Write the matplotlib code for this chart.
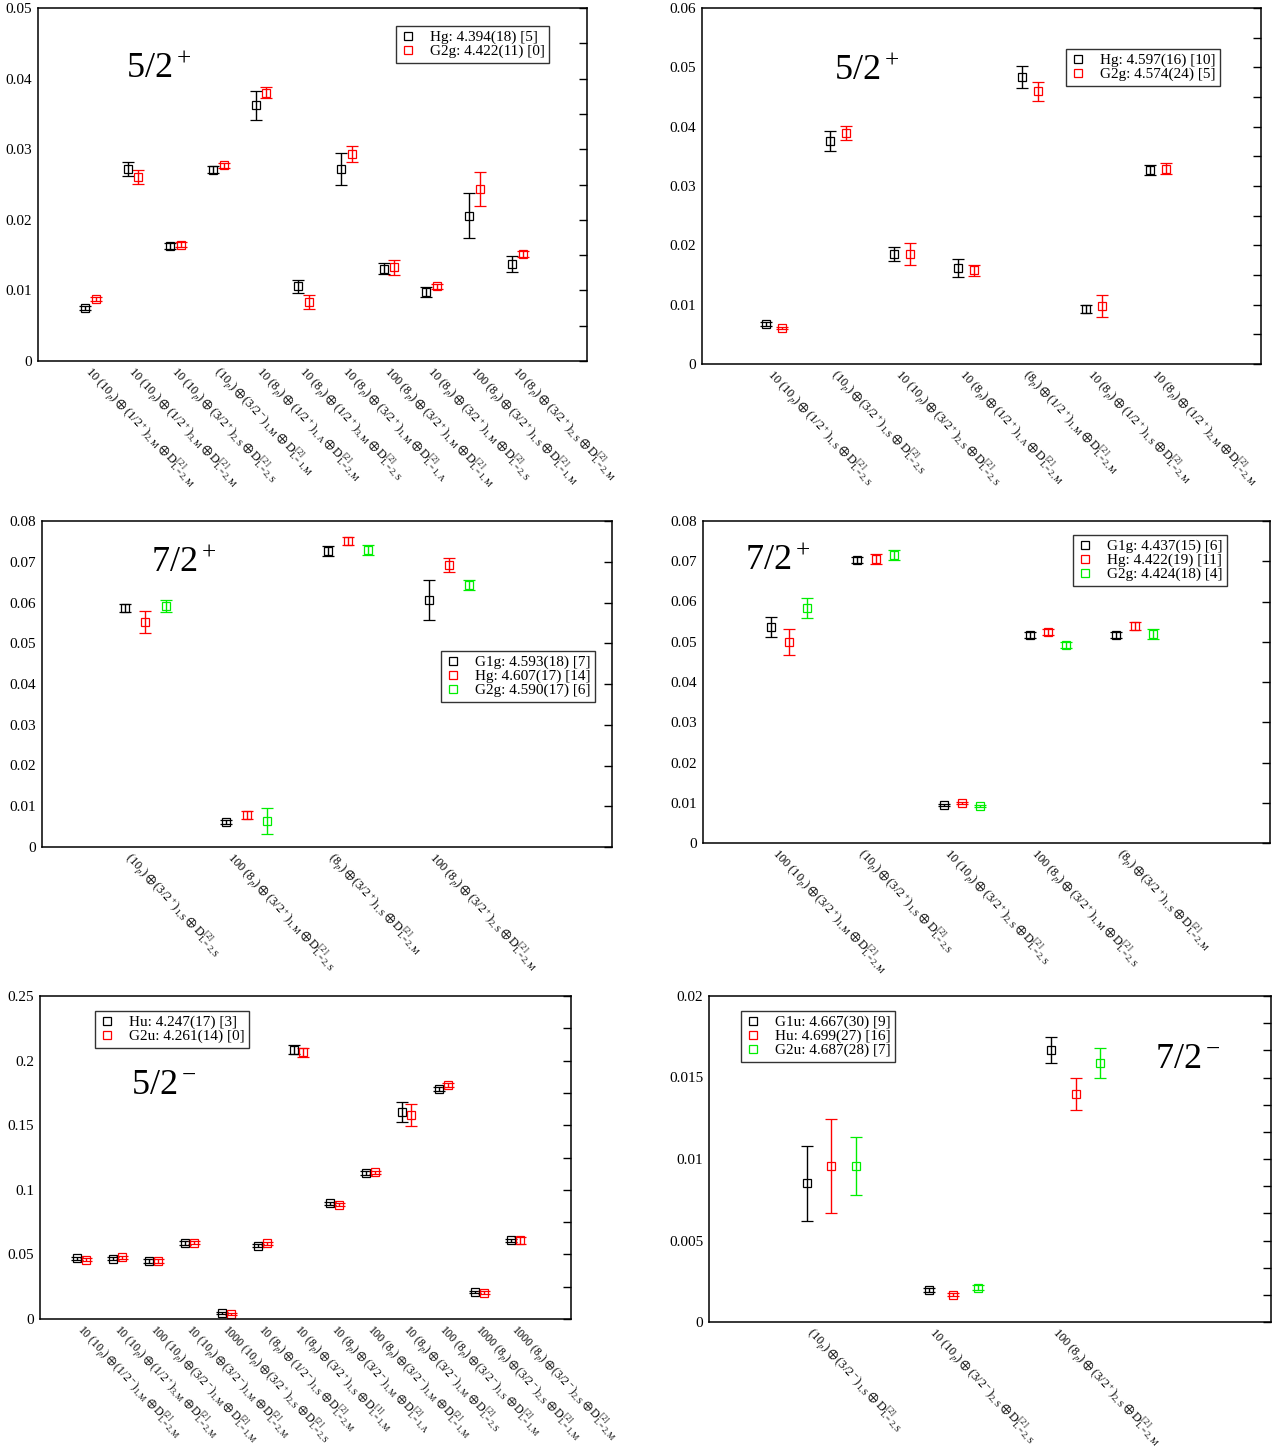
import matplotlib
matplotlib.use("Agg")
import matplotlib.pyplot as plt
from matplotlib.lines import Line2D
from matplotlib.ticker import MultipleLocator, AutoMinorLocator, FuncFormatter

plt.rcParams['font.family'] = ['Liberation Serif', 'DejaVu Serif']
plt.rcParams['mathtext.fontset'] = 'stix'

W, H = 1286, 1452
BLACK, RED, GREEN = '#000000', '#ff0000', '#00ee00'

# ---------------- Panel A: 5/2+ ----------------
a_labels = [
    r"$\mathregular{10\ (10_{\mathit{p}})\oplus(1/2^+)_{2,M}\oplus D^{[2]}_{L=2,M}}$",
    r"$\mathregular{10\ (10_{\mathit{p}})\oplus(1/2^+)_{3,M}\oplus D^{[2]}_{L=2,M}}$",
    r"$\mathregular{10\ (10_{\mathit{p}})\oplus(3/2^+)_{2,S}\oplus D^{[2]}_{L=2,S}}$",
    r"$\mathregular{(10_{\mathit{p}})\oplus(3/2^-)_{1,M}\oplus D^{[2]}_{L=1,M}}$",
    r"$\mathregular{10\ (8_{\mathit{p}})\oplus(1/2^+)_{1,A}\oplus D^{[2]}_{L=2,M}}$",
    r"$\mathregular{10\ (8_{\mathit{p}})\oplus(1/2^+)_{3,M}\oplus D^{[2]}_{L=2,S}}$",
    r"$\mathregular{10\ (8_{\mathit{p}})\oplus(3/2^+)_{1,M}\oplus D^{[2]}_{L=1,A}}$",
    r"$\mathregular{100\ (8_{\mathit{p}})\oplus(3/2^+)_{1,M}\oplus D^{[2]}_{L=1,M}}$",
    r"$\mathregular{10\ (8_{\mathit{p}})\oplus(3/2^+)_{1,M}\oplus D^{[2]}_{L=2,S}}$",
    r"$\mathregular{100\ (8_{\mathit{p}})\oplus(3/2^+)_{1,S}\oplus D^{[2]}_{L=1,M}}$",
    r"$\mathregular{10\ (8_{\mathit{p}})\oplus(3/2^+)_{2,S}\oplus D^{[2]}_{L=2,M}}$",
]
a_hg = [0.0075, 0.0272, 0.01627, 0.0271, 0.0362, 0.01057, 0.0272, 0.01307, 0.0098, 0.0206, 0.01373]
a_hg_err = [0.0003, 0.0010, 0.0004, 0.0005, 0.0021, 0.0009, 0.0023, 0.0008, 0.0007, 0.0032, 0.0011]
a_g2g = [0.00873, 0.0261, 0.0165, 0.0277, 0.0380, 0.0083, 0.0293, 0.01325, 0.01057, 0.0244, 0.0152]
a_g2g_err = [0.0003, 0.0010, 0.0003, 0.0004, 0.0008, 0.0010, 0.0011, 0.0010, 0.0004, 0.0024, 0.0004]
a_legend = ["Hg: 4.394(18) [5]", "G2g: 4.422(11) [0]"]

# ---------------- Panel B: 5/2+ ----------------
b_labels = [
    r"$\mathregular{10\ (10_{\mathit{p}})\oplus(1/2^+)_{1,S}\oplus D^{[2]}_{L=2,S}}$",
    r"$\mathregular{(10_{\mathit{p}})\oplus(3/2^+)_{1,S}\oplus D^{[2]}_{L=2,S}}$",
    r"$\mathregular{10\ (10_{\mathit{p}})\oplus(3/2^+)_{2,S}\oplus D^{[2]}_{L=2,S}}$",
    r"$\mathregular{10\ (8_{\mathit{p}})\oplus(1/2^+)_{1,A}\oplus D^{[2]}_{L=2,M}}$",
    r"$\mathregular{(8_{\mathit{p}})\oplus(1/2^+)_{1,M}\oplus D^{[2]}_{L=2,M}}$",
    r"$\mathregular{10\ (8_{\mathit{p}})\oplus(1/2^+)_{1,S}\oplus D^{[2]}_{L=2,M}}$",
    r"$\mathregular{10\ (8_{\mathit{p}})\oplus(1/2^+)_{2,M}\oplus D^{[2]}_{L=2,M}}$",
]
b_hg = [0.00674, 0.0376, 0.01854, 0.0162, 0.0484, 0.00927, 0.0327]
b_hg_err = [0.0003, 0.0017, 0.0011, 0.0015, 0.0019, 0.0006, 0.0008]
b_g2g = [0.00607, 0.0389, 0.01854, 0.0158, 0.0460, 0.0098, 0.0329]
b_g2g_err = [0.0002, 0.0012, 0.0018, 0.0009, 0.0016, 0.0018, 0.0009]
b_legend = ["Hg: 4.597(16) [10]", "G2g: 4.574(24) [5]"]

# ---------------- Panel C: 7/2+ ----------------
c_labels = [
    r"$\mathregular{(10_{\mathit{p}})\oplus(3/2^+)_{1,S}\oplus D^{[2]}_{L=2,S}}$",
    r"$\mathregular{100\ (8_{\mathit{p}})\oplus(3/2^+)_{1,M}\oplus D^{[2]}_{L=2,S}}$",
    r"$\mathregular{(8_{\mathit{p}})\oplus(3/2^+)_{1,S}\oplus D^{[2]}_{L=2,M}}$",
    r"$\mathregular{100\ (8_{\mathit{p}})\oplus(3/2^+)_{2,S}\oplus D^{[2]}_{L=2,M}}$",
]
c_g1g = [0.0587, 0.0061, 0.0726, 0.0606]
c_g1g_err = [0.0010, 0.0005, 0.0012, 0.0048]
c_hg = [0.0552, 0.0079, 0.0751, 0.0692]
c_hg_err = [0.0027, 0.0010, 0.0009, 0.0018]
c_g2g = [0.0591, 0.0064, 0.0729, 0.0643]
c_g2g_err = [0.0015, 0.0032, 0.0012, 0.0012]
c_legend = ["G1g: 4.593(18) [7]", "Hg: 4.607(17) [14]", "G2g: 4.590(17) [6]"]

# ---------------- Panel D: 7/2+ ----------------
d_labels = [
    r"$\mathregular{100\ (10_{\mathit{p}})\oplus(3/2^+)_{1,M}\oplus D^{[2]}_{L=2,M}}$",
    r"$\mathregular{(10_{\mathit{p}})\oplus(3/2^+)_{1,S}\oplus D^{[2]}_{L=2,S}}$",
    r"$\mathregular{10\ (10_{\mathit{p}})\oplus(3/2^+)_{2,S}\oplus D^{[2]}_{L=2,S}}$",
    r"$\mathregular{100\ (8_{\mathit{p}})\oplus(3/2^+)_{1,M}\oplus D^{[2]}_{L=2,S}}$",
    r"$\mathregular{(8_{\mathit{p}})\oplus(3/2^+)_{1,S}\oplus D^{[2]}_{L=2,M}}$",
]
d_g1g = [0.0537, 0.0703, 0.0094, 0.0517, 0.0517]
d_g1g_err = [0.0025, 0.0008, 0.0003, 0.0007, 0.0007]
d_hg = [0.0499, 0.0706, 0.0099, 0.0524, 0.0539]
d_hg_err = [0.0032, 0.0012, 0.0003, 0.0008, 0.0009]
d_g2g = [0.0584, 0.0716, 0.0092, 0.0492, 0.0519]
d_g2g_err = [0.0024, 0.0012, 0.0003, 0.0008, 0.0012]
d_legend = ["G1g: 4.437(15) [6]", "Hg: 4.422(19) [11]", "G2g: 4.424(18) [4]"]

# ---------------- Panel E: 5/2- ----------------
e_labels = [
    r"$\mathregular{10\ (10_{\mathit{p}})\oplus(1/2^-)_{1,M}\oplus D^{[2]}_{L=2,M}}$",
    r"$\mathregular{10\ (10_{\mathit{p}})\oplus(1/2^+)_{3,M}\oplus D^{[2]}_{L=2,M}}$",
    r"$\mathregular{100\ (10_{\mathit{p}})\oplus(3/2^-)_{1,M}\oplus D^{[2]}_{L=1,M}}$",
    r"$\mathregular{10\ (10_{\mathit{p}})\oplus(3/2^-)_{1,M}\oplus D^{[2]}_{L=2,M}}$",
    r"$\mathregular{1000\ (10_{\mathit{p}})\oplus(3/2^+)_{2,S}\oplus D^{[2]}_{L=2,S}}$",
    r"$\mathregular{10\ (8_{\mathit{p}})\oplus(1/2^-)_{1,S}\oplus D^{[2]}_{L=2,M}}$",
    r"$\mathregular{10\ (8_{\mathit{p}})\oplus(3/2^+)_{1,S}\oplus D^{[1]}_{L=1,M}}$",
    r"$\mathregular{10\ (8_{\mathit{p}})\oplus(3/2^-)_{1,M}\oplus D^{[2]}_{L=1,A}}$",
    r"$\mathregular{100\ (8_{\mathit{p}})\oplus(3/2^-)_{1,M}\oplus D^{[2]}_{L=1,M}}$",
    r"$\mathregular{10\ (8_{\mathit{p}})\oplus(3/2^-)_{1,M}\oplus D^{[2]}_{L=2,S}}$",
    r"$\mathregular{100\ (8_{\mathit{p}})\oplus(3/2^-)_{1,S}\oplus D^{[2]}_{L=1,M}}$",
    r"$\mathregular{1000\ (8_{\mathit{p}})\oplus(3/2^-)_{2,S}\oplus D^{[2]}_{L=1,M}}$",
    r"$\mathregular{1000\ (8_{\mathit{p}})\oplus(3/2^-)_{2,S}\oplus D^{[2]}_{L=2,M}}$",
]
e_hu = [0.0470, 0.0465, 0.0449, 0.0589, 0.00465, 0.0568, 0.2084, 0.0896, 0.1131, 0.1604, 0.1780, 0.0209, 0.0610]
e_hu_err = [0.0012, 0.0012, 0.0012, 0.0015, 0.0010, 0.0012, 0.0036, 0.0012, 0.0014, 0.0077, 0.0018, 0.0010, 0.0012]
e_g2u = [0.0460, 0.0478, 0.0449, 0.0589, 0.0039, 0.0586, 0.2064, 0.0886, 0.1136, 0.1580, 0.1810, 0.0204, 0.0610]
e_g2u_err = [0.0012, 0.0012, 0.0012, 0.0012, 0.0010, 0.0012, 0.0037, 0.0012, 0.0012, 0.0085, 0.0018, 0.0010, 0.0028]
e_legend = ["Hu: 4.247(17) [3]", "G2u: 4.261(14) [0]"]

# ---------------- Panel F: 7/2- ----------------
f_labels = [
    r"$\mathregular{(10_{\mathit{p}})\oplus(3/2^-)_{1,S}\oplus D^{[2]}_{L=2,S}}$",
    r"$\mathregular{10\ (10_{\mathit{p}})\oplus(3/2^-)_{2,S}\oplus D^{[2]}_{L=2,S}}$",
    r"$\mathregular{100\ (8_{\mathit{p}})\oplus(3/2^+)_{2,S}\oplus D^{[2]}_{L=2,M}}$",
]
f_g1u = [0.00850, 0.00197, 0.0167]
f_g1u_err = [0.0023, 0.0001, 0.0008]
f_hu = [0.00958, 0.00168, 0.0140]
f_hu_err = [0.0029, 0.0001, 0.0010]
f_g2u = [0.00958, 0.00209, 0.0159]
f_g2u_err = [0.0018, 0.00015, 0.0009]
f_legend = ["G1u: 4.667(30) [9]", "Hu: 4.699(27) [16]", "G2u: 4.687(28) [7]"]

fig = plt.figure(figsize=(W / 100, H / 100), dpi=100)


def make_axes(l, r, t, b):
    return fig.add_axes([l / W, 1 - b / H, (r - l) / W, (b - t) / H])


def fmt(v, pos):
    if abs(v) < 1e-12:
        return "0"
    return "%g" % round(v, 6)


def panel(box, labels, series, colors, offsets, xlim, ylim, major, nminor,
          legend, legbox, title, titlepos, lab_size=9):
    ax = make_axes(*box)
    n = len(labels)
    xs = list(range(n))
    for (vals, errs), c, off in zip(series, colors, offsets):
        ax.errorbar([x + off for x in xs], vals, yerr=errs, fmt='s', mfc='none',
                    mec=c, ecolor=c, color=c, ms=6, mew=0.9, capsize=4,
                    elinewidth=1.0, capthick=1.0)
    ax.set_xlim(*xlim)
    ax.set_ylim(*ylim)
    ax.set_xticks(xs)
    ax.set_xticklabels(labels, rotation=-47, ha='left', va='baseline',
                       rotation_mode='anchor', fontsize=lab_size)
    ax.tick_params(axis='x', length=0, pad=8)
    ax.yaxis.set_major_locator(MultipleLocator(major))
    ax.yaxis.set_minor_locator(AutoMinorLocator(nminor))
    ax.yaxis.set_major_formatter(FuncFormatter(fmt))
    ax.tick_params(axis='y', which='both', direction='in', left=False,
                   right=True, labelleft=True, length=6, width=1.0,
                   labelsize=11, pad=4)
    for s in ax.spines.values():
        s.set_linewidth(1.1)
    handles = [Line2D([], [], marker='s', ls='none', mfc='none', mec=c, ms=6,
                      mew=0.9) for c in colors]
    leg = ax.legend(handles, legend, loc='upper left',
                    bbox_to_anchor=(legbox[0] / W, 1 - legbox[1] / H),
                    bbox_transform=fig.transFigure, fontsize=11,
                    frameon=True, fancybox=False, borderaxespad=0,
                    handlelength=1.0, handletextpad=0.9, labelspacing=0.0,
                    borderpad=0.3)
    leg.get_frame().set_edgecolor('black')
    leg.get_frame().set_linewidth(1.0)
    fig.text(titlepos[0] / W, 1 - titlepos[1] / H, title, fontsize=26,
             va='baseline', ha='left')
    return ax


panel((38, 587, 8, 361), a_labels,
      [(a_hg, a_hg_err), (a_g2g, a_g2g_err)], [BLACK, RED], [0, 0.25],
      (-1.10, 11.76), (0, 0.05), 0.01, 2, a_legend, (396, 26),
      r"$\mathregular{5/2^+}$", (126, 78))

panel((702, 1261, 8, 364), b_labels,
      [(b_hg, b_hg_err), (b_g2g, b_g2g_err)], [BLACK, RED], [0, 0.25],
      (-1.0, 7.73), (0, 0.06), 0.01, 2, b_legend, (1066, 49),
      r"$\mathregular{5/2^+}$", (834, 80))

panel((42, 612, 521, 847), c_labels,
      [(c_g1g, c_g1g_err), (c_hg, c_hg_err), (c_g2g, c_g2g_err)],
      [BLACK, RED, GREEN], [0, 0.2, 0.4],
      (-0.82, 4.81), (0, 0.08), 0.01, 1, c_legend, (441, 651),
      r"$\mathregular{7/2^+}$", (151, 572))

panel((703, 1270, 521, 843), d_labels,
      [(d_g1g, d_g1g_err), (d_hg, d_hg_err), (d_g2g, d_g2g_err)],
      [BLACK, RED, GREEN], [0, 0.21, 0.42],
      (-0.79, 5.78), (0, 0.08), 0.01, 1, d_legend, (1073, 535),
      r"$\mathregular{7/2^+}$", (745, 570))

panel((40, 571, 996, 1319), e_labels,
      [(e_hu, e_hu_err), (e_g2u, e_g2u_err)], [BLACK, RED], [0, 0.25],
      (-1.02, 13.66), (0, 0.25), 0.05, 2, e_legend, (95, 1011),
      r"$\mathregular{5/2^-}$", (131, 1094), lab_size=8.5)

panel((709, 1271, 996, 1322), f_labels,
      [(f_g1u, f_g1u_err), (f_hu, f_hu_err), (f_g2u, f_g2u_err)],
      [BLACK, RED, GREEN], [0, 0.2, 0.4],
      (-0.8, 3.8), (0, 0.02), 0.005, 3, f_legend, (741, 1011),
      r"$\mathregular{7/2^-}$", (1155, 1068))

fig.savefig("out.png", dpi=100)
